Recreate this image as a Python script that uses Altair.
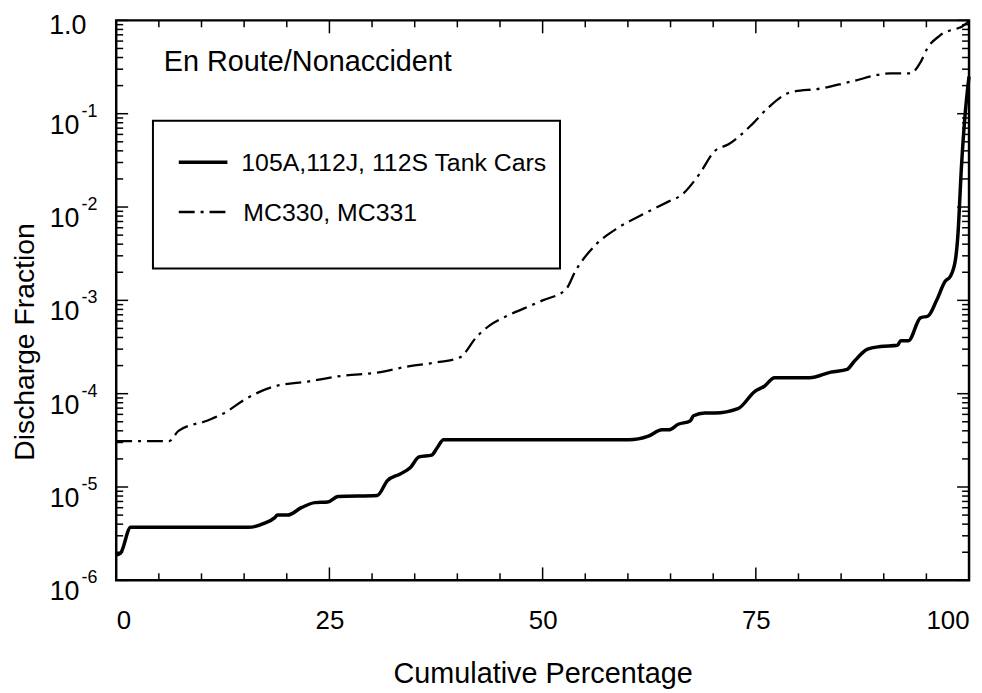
import altair as alt
import pandas as pd

# ---- data ----
tank_x = [0, 0.5, 1.7, 15.5, 17.4, 18.6, 18.9, 20.1, 21.7, 23.3, 24.8, 26.0, 30.6, 31.8,
          33.3, 34.5, 35.5, 37.0, 37.6, 38.4, 60.1, 62.4, 64.0, 64.8, 65.9, 67.3, 67.7,
          69.0, 70.2, 72.9, 74.9, 76.0, 77.2, 81.3, 83.8, 85.7, 86.5, 88.1, 89.6, 91.6,
          92.0, 92.9, 94.3, 95.2, 96.2, 97.2, 97.8, 98.4, 98.7, 99.1, 99.5, 100.0]
tank_y = [1.86e-6, 1.95e-6, 3.7e-6, 3.7e-6, 4.1e-6, 4.7e-6, 5.0e-6, 5.0e-6, 6.0e-6, 6.8e-6,
          6.9e-6, 7.9e-6, 8.1e-6, 1.17e-5, 1.38e-5, 1.62e-5, 2.1e-5, 2.2e-5, 2.6e-5, 3.2e-5,
          3.2e-5, 3.5e-5, 4.1e-5, 4.1e-5, 4.7e-5, 5.1e-5, 5.8e-5, 6.2e-5, 6.2e-5, 6.9e-5,
          1.06e-4, 1.2e-4, 1.48e-4, 1.48e-4, 1.7e-4, 1.82e-4, 2.2e-4, 3.0e-4, 3.2e-4, 3.3e-4,
          3.7e-4, 3.7e-4, 6.5e-4, 6.8e-4, 1.0e-3, 1.6e-3, 1.8e-3, 2.7e-3, 5.1e-3, 2.6e-2,
          8.9e-2, 0.25]

mc_x = [0, 6.2, 7.3, 10.8, 12.8, 15.1, 18.6, 22.5, 26.4, 31.0, 34.1, 37.4, 40.3, 42.3,
        43.8, 45.8, 47.7, 50.0, 52.7, 53.9, 56.3, 58.6, 61.7, 64.8, 66.3, 68.3, 70.2,
        71.8, 74.5, 76.4, 79.1, 82.6, 86.1, 90.8, 93.1, 94.3, 95.1, 96.6, 99.7, 100.0]
mc_y = [3.1e-5, 3.1e-5, 4.0e-5, 5.2e-5, 6.3e-5, 8.7e-5, 1.2e-4, 1.35e-4, 1.55e-4, 1.7e-4,
        1.95e-4, 2.15e-4, 2.45e-4, 4.1e-4, 5.4e-4, 6.8e-4, 8.1e-4, 1.0e-3, 1.3e-3, 2.1e-3,
        4.0e-3, 5.8e-3, 8.3e-3, 1.15e-2, 1.35e-2, 2.2e-2, 4.0e-2, 4.7e-2, 7.6e-2, 0.115,
        0.17, 0.186, 0.22, 0.27, 0.27, 0.355, 0.5, 0.69, 0.93, 1.0]

series_names = ["105A,112J, 112S Tank Cars", "MC330, MC331"]
panel_label = ["En Route/Nonaccident"]
x_title = ["Cumulative Percentage"]
y_title = ["Discharge Fraction"]

x_major = [0, 25, 50, 75, 100]
x_minor = [5, 10, 15, 20, 30, 35, 40, 45, 55, 60, 65, 70, 80, 85, 90, 95]
y_major = [1e-6, 1e-5, 1e-4, 1e-3, 1e-2, 1e-1, 1.0]
y_minor = [k * 10.0 ** d for d in range(-6, 0) for k in range(2, 10)]
y_lab_vals = [1e-1, 1e-2, 1e-3, 1e-4, 1e-5, 1e-6]
y_lab_base = ["10"] * 6
y_lab_sup = ["-1", "-2", "-3", "-4", "-5", "-6"]
y_top_label = ["1.0"]

# ---- tables ----
df_tank = pd.DataFrame({"x": tank_x, "y": tank_y})
df_mc = pd.DataFrame({"x": mc_x, "y": mc_y})

W, H = 859, 564
xs = alt.Scale(domain=[0, 100], nice=False, zero=False)
ys = alt.Scale(type="log", domain=[1e-6, 1.0], nice=False)
FONT = "Liberation Sans"

X_AX = alt.Axis(values=x_major, ticks=False, tickSize=0, domain=False, grid=False,
                labelFontSize=26, labelPadding=28, labelFlush=True, title=None,
                labelColor="black", labelFont=FONT)

tank_line = alt.Chart(df_tank).mark_line(color="black", strokeWidth=3.5, interpolate="monotone").encode(
    x=alt.X("x:Q", scale=xs, axis=X_AX),
    y=alt.Y("y:Q", scale=ys, axis=None),
)
mc_line = alt.Chart(df_mc).mark_line(color="black", strokeWidth=2.3, strokeDash=[16, 6, 3, 6],
                                     interpolate="monotone").encode(
    x=alt.X("x:Q", scale=xs, axis=X_AX),
    y=alt.Y("y:Q", scale=ys, axis=None),
)

# inward ticks
def xticks(vals, length):
    d = pd.DataFrame({"v": vals})
    b = alt.Chart(d).mark_rule(color="black", strokeWidth=1.5).encode(
        x=alt.X("v:Q", scale=xs, axis=X_AX), y=alt.value(H), y2=alt.value(H - length))
    t = alt.Chart(d).mark_rule(color="black", strokeWidth=1.5).encode(
        x=alt.X("v:Q", scale=xs, axis=X_AX), y=alt.value(0), y2=alt.value(length))
    return [b, t]

def yticks(vals, length):
    d = pd.DataFrame({"v": vals})
    l = alt.Chart(d).mark_rule(color="black", strokeWidth=1.5).encode(
        y=alt.Y("v:Q", scale=ys, axis=None), x=alt.value(0), x2=alt.value(length))
    r = alt.Chart(d).mark_rule(color="black", strokeWidth=1.5).encode(
        y=alt.Y("v:Q", scale=ys, axis=None), x=alt.value(W), x2=alt.value(W - length))
    return [l, r]

tick_layers = xticks(x_major, 13) + xticks(x_minor, 7) + yticks(y_major, 12) + yticks(y_minor, 7)

# y tick labels with superscripts
df_ylab = pd.DataFrame({"v": y_lab_vals, "base": y_lab_base, "sup": y_lab_sup})
ylab_base = alt.Chart(df_ylab).mark_text(font=FONT, fontSize=27, align="right", baseline="alphabetic",
                                         dy=20, color="black").encode(
    y=alt.Y("v:Q", scale=ys, axis=None), x=alt.value(-37), text="base:N")
ylab_sup = alt.Chart(df_ylab).mark_text(font=FONT, fontSize=18, align="left", baseline="alphabetic",
                                        dy=3, color="black").encode(
    y=alt.Y("v:Q", scale=ys, axis=None), x=alt.value(-35), text="sup:N")
df_top = pd.DataFrame({"v": [1.0], "t": y_top_label})
ylab_top = alt.Chart(df_top).mark_text(font=FONT, fontSize=27, align="right", baseline="alphabetic",
                                       dy=14, color="black").encode(
    y=alt.Y("v:Q", scale=ys, axis=None), x=alt.value(-30), text="t:N")

# titles
xt = alt.Chart(pd.DataFrame({"t": x_title})).mark_text(font=FONT, fontSize=29, align="center",
                                                        baseline="alphabetic", color="black").encode(
    x=alt.value(430), y=alt.value(667), text="t:N")
yt = alt.Chart(pd.DataFrame({"t": y_title})).mark_text(font=FONT, fontSize=28.5, align="center",
                                                        baseline="alphabetic", angle=270, color="black").encode(
    x=alt.value(-82.5), y=alt.value(324), text="t:N")
panel = alt.Chart(pd.DataFrame({"t": panel_label})).mark_text(font=FONT, fontSize=29, align="left",
                                                              baseline="alphabetic", color="black").encode(
    x=alt.value(48), y=alt.value(51), text="t:N")

# legend box
box = alt.Chart(pd.DataFrame({"t": ["box"]})).mark_rect(fill="white", fillOpacity=0, stroke="black",
                                                       strokeWidth=2).encode(
    x=alt.value(37), x2=alt.value(447), y=alt.value(101), y2=alt.value(250))
leg1_line = alt.Chart(pd.DataFrame({"t": [series_names[0]]})).mark_rule(color="black", strokeWidth=3.5).encode(
    x=alt.value(63), x2=alt.value(112), y=alt.value(143))
leg2_line = alt.Chart(pd.DataFrame({"t": [series_names[1]]})).mark_rule(color="black", strokeWidth=2.3,
                                                                        strokeDash=[16, 6, 3, 6]).encode(
    x=alt.value(63), x2=alt.value(112), y=alt.value(193))
leg1_text = alt.Chart(pd.DataFrame({"t": [series_names[0]]})).mark_text(font=FONT, fontSize=25, align="left",
                                                                        baseline="middle", color="black").encode(
    x=alt.value(126), y=alt.value(144), text="t:N")
leg2_text = alt.Chart(pd.DataFrame({"t": [series_names[1]]})).mark_text(font=FONT, fontSize=25, align="left",
                                                                        baseline="middle", color="black").encode(
    x=alt.value(128), y=alt.value(194), text="t:N")

chart = alt.layer(
    tank_line, mc_line, *tick_layers, ylab_base, ylab_sup, ylab_top, xt, yt, panel,
    box, leg1_line, leg2_line, leg1_text, leg2_text
).properties(
    width=W, height=H,
    autosize=alt.AutoSizeParams(type="none"),
    padding={"left": 109, "top": 10, "right": 5, "bottom": 108},
).configure(font=FONT).configure_view(stroke="black", strokeWidth=2.5)

chart.save("out.html", embed_options={"renderer": "svg", "actions": False})
